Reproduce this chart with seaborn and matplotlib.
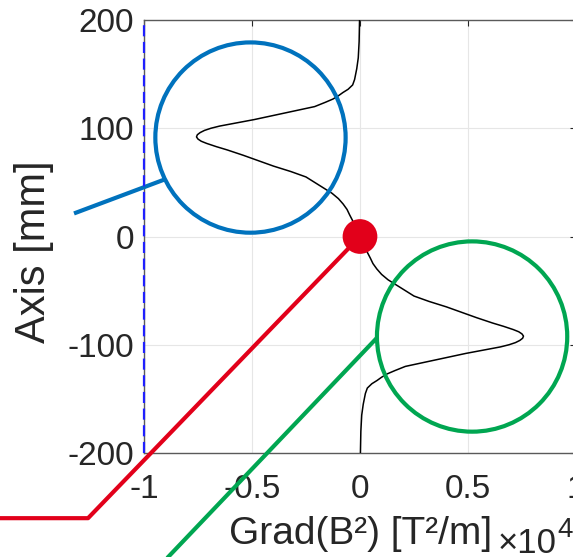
import matplotlib
matplotlib.use('Agg')
import matplotlib.pyplot as plt
import seaborn as sns

# field profile (gradient in units of 1e4 T^2/m)
axis_mm = [200, 180, 165, 155, 145, 140, 136, 133, 130, 127, 124, 120, 117, 114, 111, 108,
           105, 102, 100, 98, 96, 94, 92, 90, 88, 86, 83, 80, 75, 70, 65, 60, 55, 50, 45,
           40, 35, 30, 25, 20, 15, 10, 5, 0,
           -5, -10, -15, -20, -25, -30, -35, -40, -45, -50, -55, -60, -65, -70, -75, -80,
           -83, -86, -88, -90, -92, -94, -96, -98, -100, -102, -105, -108, -111, -114,
           -117, -120, -124, -127, -130, -133, -136, -140, -145, -155, -165, -180, -200]
grad_1e4 = [-0.002, -0.004, -0.008, -0.015, -0.025, -0.034, -0.055, -0.079, -0.10, -0.125,
            -0.16, -0.21, -0.28, -0.35, -0.42, -0.49, -0.57, -0.65, -0.69, -0.72, -0.74,
            -0.753, -0.757, -0.75, -0.735, -0.71, -0.665, -0.615, -0.54, -0.47, -0.40,
            -0.32, -0.25, -0.21, -0.17, -0.13, -0.10, -0.078, -0.06, -0.048, -0.035,
            -0.022, -0.011, 0.0,
            0.011, 0.022, 0.035, 0.048, 0.06, 0.078, 0.10, 0.13, 0.17, 0.21, 0.25, 0.32,
            0.40, 0.47, 0.54, 0.615, 0.665, 0.71, 0.735, 0.75, 0.757, 0.753, 0.74, 0.72,
            0.69, 0.65, 0.57, 0.49, 0.42, 0.35, 0.28, 0.21, 0.16, 0.125, 0.10, 0.079,
            0.055, 0.034, 0.025, 0.015, 0.008, 0.004, 0.002]

# zoom circles and the probe point
zoom_x = [-0.507, 0.519]
zoom_y = [91.4, -92.4]
zoom_colors = ['#0072BD', '#00A651']
probe_x = [0.0]
probe_y = [0.0]

# callout lines running out of the axes
blue_link_x = [-0.903, -1.324]
blue_link_y = [52.8, 21.3]
red_link_x = [0.0, -1.259, -1.70]
red_link_y = [0.0, -260.2, -260.2]
green_link_x = [0.079, -0.991]
green_link_y = [-93.5, -317.6]

x_ticks = [-1, -0.5, 0, 0.5, 1]
x_tick_labels = ['-1', '-0.5', '0', '0.5', '1']
y_ticks = [-200, -100, 0, 100, 200]
y_tick_labels = ['-200', '-100', '0', '100', '200']

sns.set_theme(style='whitegrid')
plt.rcParams['font.family'] = ['Liberation Sans', 'DejaVu Sans']
plt.rcParams['axes.unicode_minus'] = False

fig = plt.figure(figsize=(5.73, 5.57), dpi=100)
ax = fig.add_axes([0.2513, 0.1867, 0.7539, 0.7774])

sns.lineplot(x=grad_1e4, y=axis_mm, sort=False, estimator=None, color='black',
             linewidth=1.1, ax=ax, zorder=3)

ax.plot(blue_link_x, blue_link_y, color=zoom_colors[0], lw=3, clip_on=False,
        solid_capstyle='butt', zorder=4)
ax.plot(green_link_x, green_link_y, color=zoom_colors[1], lw=3, clip_on=False,
        solid_capstyle='butt', zorder=4)
ax.plot(red_link_x, red_link_y, color='#E2001A', lw=3, clip_on=False,
        solid_capstyle='butt', zorder=4)

ax.scatter(zoom_x, zoom_y, s=137 ** 2, facecolors='none', edgecolors=zoom_colors,
           linewidths=3, zorder=5)
ax.scatter(probe_x, probe_y, s=25 ** 2, color='#E2001A', edgecolors='none', zorder=6)

ax.axvline(-1, color='#2020ff', ls=(0, (5, 2.5)), lw=1.6, zorder=6, clip_on=False)

ax.set_xlim(-1, 1)
ax.set_ylim(-200, 200)
ax.set_xticks(x_ticks)
ax.set_xticklabels(x_tick_labels)
ax.set_yticks(y_ticks)
ax.set_yticklabels(y_tick_labels)
ax.grid(color='#e6e6e6', lw=0.8)
ax.tick_params(direction='in', length=4, width=0.8, colors='#262626', labelsize=24,
               top=True, right=True)
ax.tick_params(axis='x', pad=15)
ax.tick_params(axis='y', pad=7)
for s in ax.spines.values():
    s.set_color('#5a5a5a')
    s.set_linewidth(1)

ax.set_xlabel('Grad(B²) [T²/m]', fontsize=28, color='#262626')
ax.set_ylabel('Axis [mm]', fontsize=30, color='#262626')
ax.xaxis.set_label_coords(0.502, -0.145)
ax.yaxis.set_label_coords(-0.208, 0.465)

# exponent of the x axis, MATLAB style
fig.text(498 / 573, 1 - 553 / 557, '×10', fontsize=25, color='#262626', va='baseline')
fig.text(557 / 573, 1 - 537 / 557, '4', fontsize=20, color='#262626', va='baseline')

fig.savefig('out.png', dpi=100)
